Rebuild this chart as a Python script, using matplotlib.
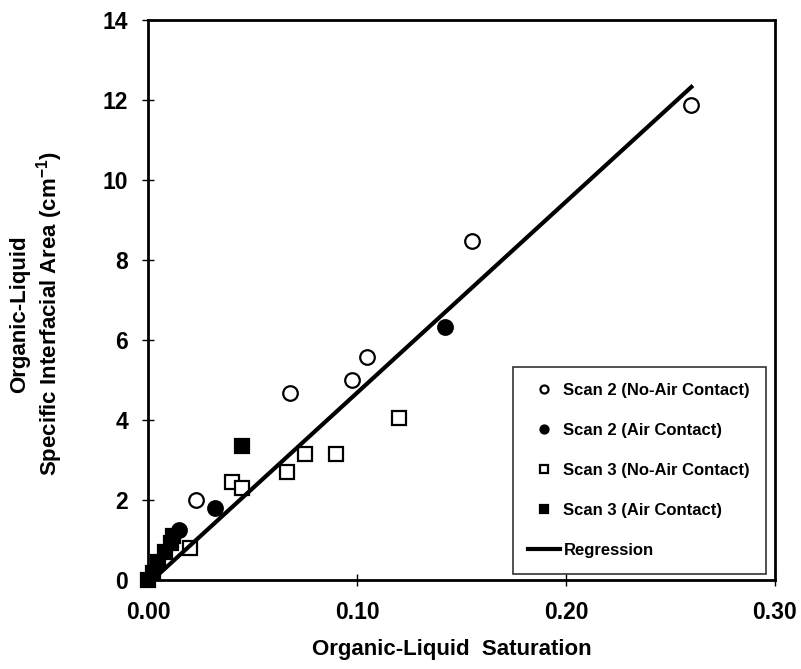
import matplotlib
matplotlib.use("Agg")
import numpy as np
import matplotlib.pyplot as plt

plt.rcParams['font.family'] = ['Liberation Sans', 'DejaVu Sans']
plt.rcParams['font.weight'] = 'bold'
plt.rcParams['mathtext.fontset'] = 'custom'
plt.rcParams['mathtext.rm'] = 'Liberation Sans'
plt.rcParams['mathtext.bf'] = 'Liberation Sans:bold'

# Scan 2, no air contact (open circles)
s2_open_x = [0.023, 0.068, 0.0975, 0.105, 0.155, 0.260]
s2_open_y = [2.0, 4.67, 5.0, 5.58, 8.48, 11.88]

# Scan 2, air contact (filled circles)
s2_fill_x = [0.015, 0.032, 0.142]
s2_fill_y = [1.25, 1.8, 6.33]

# Scan 3, no air contact (open squares)
s3_open_x = [0.020, 0.040, 0.045, 0.0665, 0.075, 0.090, 0.120]
s3_open_y = [0.8, 2.46, 2.31, 2.71, 3.15, 3.15, 4.04]

# Scan 3, air contact (filled squares)
s3_fill_x = [0.000, 0.0025, 0.005, 0.008, 0.011, 0.012, 0.045]
s3_fill_y = [0.0, 0.18, 0.45, 0.7, 0.92, 1.1, 3.35]

# regression line
reg_slope = 47.8
reg_icept = -0.1
reg_x = np.array([0.003, 0.26])

fig = plt.figure(figsize=(8.01, 6.69), dpi=100)
ax = fig.add_axes([0.1848, 0.133, 0.7827, 0.837])

ms = 10.5
ax.plot(s2_open_x, s2_open_y, 'o', ms=ms, mfc='white', mec='black', mew=1.6,
        label='Scan 2 (No-Air Contact)', zorder=3, clip_on=False)
ax.plot(s2_fill_x, s2_fill_y, 'o', ms=ms, mfc='black', mec='black', mew=1.6,
        label='Scan 2 (Air Contact)', zorder=3, clip_on=False)
ax.plot(s3_open_x, s3_open_y, 's', ms=ms, mfc='white', mec='black', mew=1.6,
        label='Scan 3 (No-Air Contact)', zorder=3, clip_on=False)
ax.plot(s3_fill_x, s3_fill_y, 's', ms=ms, mfc='black', mec='black', mew=1.6,
        label='Scan 3 (Air Contact)', zorder=3, clip_on=False)
ax.plot(reg_x, reg_slope * reg_x + reg_icept, '-', color='black', lw=3,
        label='Regression', zorder=4)

ax.set_xlim(0, 0.30)
ax.set_ylim(0, 14)
ax.set_xticks([0.0, 0.1, 0.2, 0.3])
ax.set_xticklabels(['%.2f' % v for v in [0.0, 0.1, 0.2, 0.3]])
ax.set_yticks(range(0, 15, 2))
ax.tick_params(direction='inout', length=9, width=1, labelsize=16.5)
ax.tick_params(axis='x', pad=10.5)
ax.tick_params(axis='y', pad=10)
for sp in ax.spines.values():
    sp.set_linewidth(2)

ax.set_xlabel('Organic-Liquid  Saturation', fontsize=16, fontweight='bold')
ax.xaxis.set_label_coords(0.485, -0.105)
ax.set_ylabel('Organic-Liquid\nSpecific Interfacial Area (cm$^{\\mathbf{-1}}$)',
              fontsize=16, fontweight='bold', linespacing=1.2)
ax.yaxis.set_label_coords(-0.132, 0.475)

leg = ax.legend(loc='lower right', bbox_to_anchor=(0.9856, 0.0107), borderaxespad=0,
                fontsize=12, markerscale=0.55, labelspacing=1.5, borderpad=0.95,
                handlelength=1.9, handletextpad=0.2, fancybox=False,
                edgecolor='#333333', framealpha=1)
leg.get_frame().set_linewidth(1.2)
leg.set_zorder(5)

fig.savefig('out.png', dpi=100)
